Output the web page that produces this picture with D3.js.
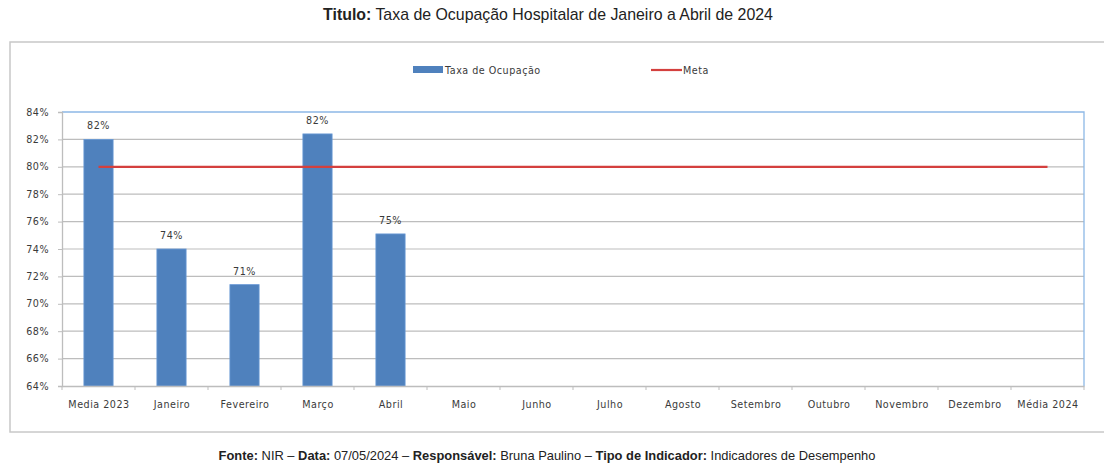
<!DOCTYPE html>
<html>
<head>
<meta charset="utf-8">
<script src="https://cdn.jsdelivr.net/npm/d3@7"></script>
<style>
  body { margin: 0; background: #fff; }
  svg { display: block; }
</style>
</head>
<body>
<svg id="chart" width="1104" height="463"></svg>
<script>
// dados
const categorias = ['Media 2023', 'Janeiro', 'Fevereiro', 'Março', 'Abril', 'Maio', 'Junho',
  'Julho', 'Agosto', 'Setembro', 'Outubro', 'Novembro', 'Dezembro', 'Média 2024'];
const taxaOcupacao = [82.0, 74.0, 71.4, 82.4, 75.1, null, null, null, null, null, null, null, null, null];
const rotulos = ['82%', '74%', '71%', '82%', '75%'];
const meta = [80, 80, 80, 80, 80, 80, 80, 80, 80, 80, 80, 80, 80, 80];
const yTicks = [64, 66, 68, 70, 72, 74, 76, 78, 80, 82, 84];

let svg = d3.select('#chart')
let font = 'Liberation Sans, Arial, sans-serif'
let smallFont = 'DejaVu Sans, sans-serif'

let plotLeft = 62, plotRight = 1084, plotTop = 112, plotBottom = 386

let smallText = (sel) => sel
  .style('font-family', smallFont)
  .style('font-size', '9.6px')
  .style('letter-spacing', '0.5px')
  .attr('fill', '#3a3a3a')

// moldura externa
svg.append('rect')
  .attr('x', 10).attr('y', 42)
  .attr('width', 1100).attr('height', 390)
  .attr('fill', 'none')
  .attr('stroke', '#c8c8c8')
  .attr('stroke-width', 1.5)

// titulo
let title = svg.append('text')
  .attr('x', 548).attr('y', 20)
  .attr('text-anchor', 'middle')
  .style('font-family', font)
  .style('font-size', '15.9px')
  .attr('fill', '#222')
title.append('tspan').attr('font-weight', 'bold').text('Titulo:')
title.append('tspan').text(' Taxa de Ocupação Hospitalar de Janeiro a Abril de 2024')

let x = d3.scaleBand()
  .domain(categorias)
  .range([plotLeft, plotRight])
  .paddingInner(0.6)
  .paddingOuter(0.3)

let xc = d3.scalePoint()
  .domain(categorias)
  .range([plotLeft, plotRight])
  .padding(0.5)

let y = d3.scaleLinear()
  .domain([64, 84])
  .range([plotBottom, plotTop])

// grade
svg.append('g')
  .selectAll('line')
  .data(yTicks.slice(1, -1))
  .enter()
  .append('line')
  .attr('x1', plotLeft).attr('x2', plotRight)
  .attr('y1', (d) => y(d)).attr('y2', (d) => y(d))
  .attr('stroke', '#bdbdbd')
  .attr('stroke-width', 1.2)

// borda superior e direita azul
svg.append('path')
  .attr('d', 'M' + plotLeft + ',' + plotTop + 'H' + plotRight + 'V' + plotBottom)
  .attr('fill', 'none')
  .attr('stroke', '#8db8e6')
  .attr('stroke-width', 1.3)

// eixo y
let yAxis = svg.append('g')
  .attr('transform', 'translate(' + plotLeft + ',0)')
  .call(d3.axisLeft(y).tickValues(yTicks).tickSize(4).tickFormat((d) => d + '%'))
yAxis.select('.domain').attr('stroke', '#bdbdbd').attr('stroke-width', 1.3)
yAxis.selectAll('.tick line').attr('stroke', '#bdbdbd')
yAxis.selectAll('text').attr('x', -13).call(smallText)

// barras
svg.append('g')
  .selectAll('rect')
  .data(categorias.map((c, i) => ({ cat: c, v: taxaOcupacao[i] })).filter((d) => d.v !== null))
  .enter()
  .append('rect')
  .attr('x', (d) => x(d.cat))
  .attr('y', (d) => y(d.v))
  .attr('width', x.bandwidth())
  .attr('height', (d) => plotBottom - y(d.v))
  .attr('fill', '#4f81bd')
  .attr('stroke', '#6a9ad6')
  .attr('stroke-width', 0.8)

// rotulos das barras
svg.append('g')
  .selectAll('text')
  .data(rotulos)
  .enter()
  .append('text')
  .attr('x', (d, i) => xc(categorias[i]))
  .attr('y', (d, i) => y(taxaOcupacao[i]) - 10)
  .attr('text-anchor', 'middle')
  .call(smallText)
  .text((d) => d)

// eixo x
let xAxis = svg.append('g')
  .attr('transform', 'translate(0,' + plotBottom + ')')
  .call(d3.axisBottom(xc).tickSize(0).tickPadding(15))
xAxis.select('.domain').attr('stroke', '#bdbdbd').attr('stroke-width', 1.3)
xAxis.selectAll('text').call(smallText)
svg.append('g')
  .selectAll('line')
  .data(d3.range(categorias.length + 1))
  .enter()
  .append('line')
  .attr('x1', (i) => plotLeft + i * x.step())
  .attr('x2', (i) => plotLeft + i * x.step())
  .attr('y1', plotBottom).attr('y2', plotBottom + 4)
  .attr('stroke', '#bdbdbd')

// linha da meta
let metaLine = d3.line()
  .x((d, i) => xc(categorias[i]))
  .y((d) => y(d))
svg.append('path')
  .datum(meta)
  .attr('d', metaLine)
  .attr('fill', 'none')
  .attr('stroke', '#d4403e')
  .attr('stroke-width', 2.2)

// legenda
let legend = svg.append('g')
legend.append('rect')
  .attr('x', 413).attr('y', 66)
  .attr('width', 30).attr('height', 7)
  .attr('fill', '#4f81bd')
legend.append('text')
  .attr('x', 445).attr('y', 74)
  .call(smallText)
  .text('Taxa de Ocupação')
legend.append('line')
  .attr('x1', 651).attr('x2', 682)
  .attr('y1', 70).attr('y2', 70)
  .attr('stroke', '#d4403e')
  .attr('stroke-width', 2.2)
legend.append('text')
  .attr('x', 683).attr('y', 74)
  .call(smallText)
  .text('Meta')

// rodape
let footer = svg.append('text')
  .attr('x', 547).attr('y', 460)
  .attr('text-anchor', 'middle')
  .style('font-family', font)
  .style('font-size', '12.9px')
  .attr('fill', '#222')
let parts = [['Fonte:', true], [' NIR – ', false], ['Data:', true], [' 07/05/2024 – ', false],
  ['Responsável:', true], [' Bruna Paulino – ', false], ['Tipo de Indicador:', true], [' Indicadores de Desempenho', false]]
parts.forEach((p) => {
  footer.append('tspan').attr('font-weight', p[1] ? 'bold' : 'normal').text(p[0])
})
</script>
</body>
</html>
